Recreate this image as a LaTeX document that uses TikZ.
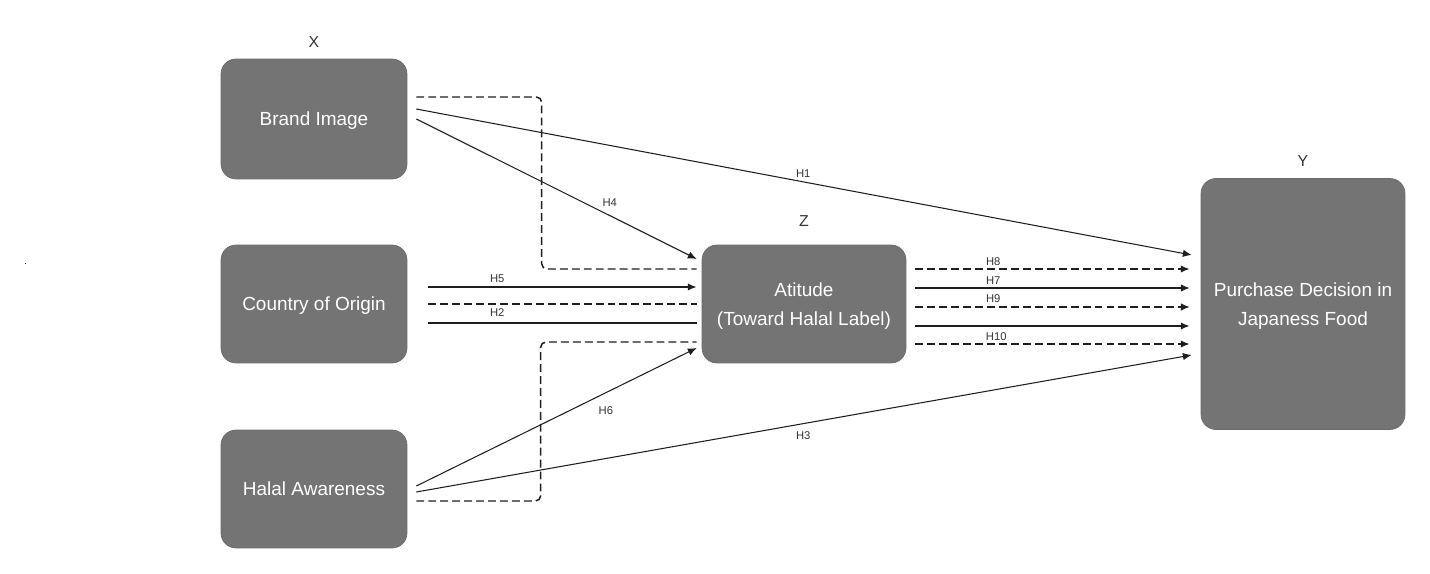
\documentclass[tikz,border=0pt]{standalone}
\usepackage{fontspec}
\setmainfont{Liberation Sans}
\usetikzlibrary{arrows.meta,calc}

\definecolor{boxgray}{HTML}{747474}
\definecolor{inkgray}{HTML}{1E1E1E}
\definecolor{txtgray}{HTML}{333333}

\tikzset{
  varbox/.style={fill=boxgray, draw=boxgray!92!black, rounded corners=0.3cm,
    text=white, align=center, inner sep=0pt, text depth=0pt,
    font=\fontsize{10.8}{16.5}\selectfont},
  varname/.style={text=txtgray, font=\fontsize{9}{10}\selectfont},
  hlabel/.style={text=txtgray, inner sep=0pt, font=\fontsize{6.4}{7}\selectfont},
  arr/.style={draw=inkgray, line width=0.6pt, -{Latex[length=5pt,width=4.2pt]}},
  thickarr/.style={arr, line width=0.85pt},
  plainln/.style={draw=inkgray, line width=0.85pt},
  dashln/.style={draw=inkgray, line width=0.85pt, dash pattern=on 4.5pt off 2.3pt},
}

\begin{document}
\begin{tikzpicture}[x=0.02cm, y=-0.02cm]

\useasboundingbox (0,0) rectangle (1430,574);

% stray dot on the left
\fill[inkgray] (24.5,263.5) rectangle (25.5,264.5);

% Variables
\node[varbox, minimum width=3.72cm, minimum height=2.4cm] (bi) at (314,119) {Brand Image};
\node[varbox, minimum width=3.72cm, minimum height=2.36cm] (co) at (314,304) {Country of Origin};
\node[varbox, minimum width=3.72cm, minimum height=2.36cm] (ha) at (314,489) {Halal Awareness};
\node[varbox, minimum width=4.08cm, minimum height=2.36cm] (att) at (804,304) {Atitude\\(Toward Halal Label)};
\node[varbox, minimum width=4.08cm, minimum height=5.02cm] (pd) at (1303,304) {Purchase Decision in\\Japaness Food};

% Variable names
\node[varname] (x) at (314,42) {X};
\node[varname] (z) at (804,221) {Z};
\node[varname] (y) at (1303,161) {Y};

% Brand Image paths
\draw[arr] ($(bi.east)+(9,-10)$) -- ($(pd.west)+(-9,-49)$)
  node[hlabel, pos=0.499, yshift=0.16cm] (h1) {H1};
\draw[arr] ($(bi.east)+(9,0)$) -- ($(att.west)+(-5,-45)$)
  node[hlabel, pos=0.69, yshift=0.25cm] (h4) {H4};
\draw[dashln, rounded corners=3] ($(bi.east)+(9,-22)$) -| ($(att.west)+(-160,-35)$) -- ($(att.west)+(-5,-35)$);

% Country of Origin paths
\draw[thickarr] ($(co.east)+(21,-17)$) -- ($(att.west)+(-5,-17)$)
  node[hlabel, pos=0.257, yshift=0.16cm] (h5) {H5};
\draw[dashln] ($(co.east)+(21,0)$) -- ($(att.west)+(-5,0)$);
\draw[plainln] ($(co.east)+(21,19)$) -- ($(att.west)+(-5,19)$)
  node[hlabel, pos=0.257, yshift=0.2cm] (h2) {H2};

% Halal Awareness paths
\draw[dashln, rounded corners=3] ($(ha.east)+(9,12)$) -| ($(att.west)+(-161,38)$) -- ($(att.west)+(-5,38)$);
\draw[arr] ($(ha.east)+(9,-3)$) -- ($(att.west)+(-5,44)$)
  node[hlabel, pos=0.676, yshift=-0.35cm] (h6) {H6};
\draw[arr] ($(ha.east)+(9,3)$) -- ($(pd.west)+(-9,51)$)
  node[hlabel, pos=0.499, yshift=-0.23cm] (h3) {H3};

% Attitude to Purchase Decision
\draw[arr, dashln] ($(att.east)+(9,-35)$) -- ($(pd.west)+(-11,-35)$)
  node[hlabel, pos=0.284, yshift=0.14cm] (h8) {H8};
\draw[arr] ($(att.east)+(9,-16)$) -- ($(pd.west)+(-11,-16)$)
  node[hlabel, pos=0.284, yshift=0.14cm] (h7) {H7};
\draw[arr, dashln, line width=0.6pt] ($(att.east)+(9,3)$) -- ($(pd.west)+(-11,3)$)
  node[hlabel, pos=0.284, yshift=0.16cm] (h9) {H9};
\draw[thickarr] ($(att.east)+(9,22)$) -- ($(pd.west)+(-11,22)$);
\draw[arr, dashln] ($(att.east)+(9,40)$) -- ($(pd.west)+(-11,40)$)
  node[hlabel, pos=0.295, yshift=0.14cm] (h10) {H10};

\end{tikzpicture}
\end{document}
